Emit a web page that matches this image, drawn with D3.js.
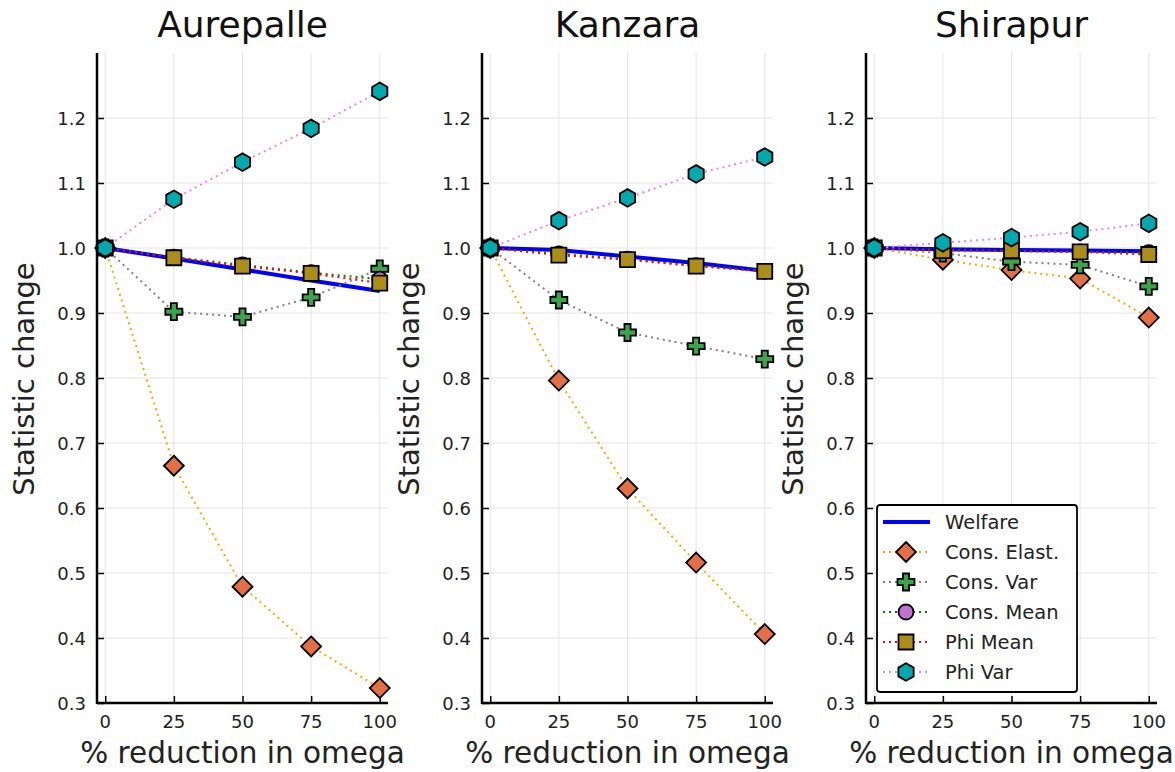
<!DOCTYPE html>
<html>
<head>
<meta charset="utf-8">
<script src="https://cdn.jsdelivr.net/npm/d3@7"></script>
<style>
  body { margin: 0; background: #fff; }
  svg { font-family: "DejaVu Sans", sans-serif; }
</style>
</head>
<body>
<svg id="chart"></svg>
<script>
// data
const omega = [0, 25, 50, 75, 100];
const villages = ["Aurepalle", "Kanzara", "Shirapur"];
const seriesNames = ["Welfare", "Cons. Elast.", "Cons. Var", "Cons. Mean", "Phi Mean", "Phi Var"];

const welfare = [
    [1.0, 0.984, 0.967, 0.950, 0.934],
    [1.0, 0.997, 0.987, 0.977, 0.965],
    [1.0, 0.998, 0.997, 0.996, 0.995]
];
const consElast = [
    [1.0, 0.665, 0.479, 0.387, 0.323],
    [1.0, 0.796, 0.630, 0.516, 0.406],
    [1.0, 0.982, 0.966, 0.953, 0.893]
];
const consVar = [
    [1.0, 0.902, 0.894, 0.924, 0.968],
    [1.0, 0.920, 0.870, 0.849, 0.829],
    [1.0, 0.992, 0.979, 0.974, 0.941]
];
const consMean = [
    [1.0, 0.986, 0.974, 0.962, 0.952],
    [1.0, 0.991, 0.983, 0.973, 0.964],
    [1.0, 0.997, 0.995, 0.994, 0.993]
];
const phiMean = [
    [1.0, 0.985, 0.972, 0.961, 0.946],
    [1.0, 0.989, 0.982, 0.972, 0.964],
    [1.0, 0.996, 0.996, 0.994, 0.990]
];
const phiVar = [
    [1.0, 1.075, 1.132, 1.184, 1.241],
    [1.0, 1.042, 1.077, 1.114, 1.140],
    [1.0, 1.008, 1.016, 1.025, 1.038]
];

const xTicks = [0, 25, 50, 75, 100];
const yTicks = [0.3, 0.4, 0.5, 0.6, 0.7, 0.8, 0.9, 1.0, 1.1, 1.2];

const W = 1175, H = 772;
const svg = d3.select("#chart").attr("width", W).attr("height", H);

// marker shapes (r = half size)
function diamond(r) { return `M0,${-r}L${r},0L0,${r}L${-r},0Z`; }
function square(r) { return `M${-r},${-r}H${r}V${r}H${-r}Z`; }
function circle(r) { return `M${r},0A${r},${r} 0 1,1 ${-r},0A${r},${r} 0 1,1 ${r},0Z`; }
function cross(r) {
    const a = r * 0.36;
    return `M${-a},${-r}H${a}V${-a}H${r}V${a}H${a}V${r}H${-a}V${a}H${-r}V${-a}H${-a}Z`;
}
function hexagon(r) {
    const pts = d3.range(6).map(i => {
        const ang = Math.PI / 3 * i - Math.PI / 2;
        return [r * Math.cos(ang), r * Math.sin(ang)];
    });
    return "M" + pts.map(p => p.join(",")).join("L") + "Z";
}

// style for each series (same order as seriesNames)
const styles = [
    { line: "#0000ff", width: 4, dash: null, marker: null },
    { line: "#ffa500", width: 2, dash: "2,4", marker: diamond(10), fill: "#e26f46" },
    { line: "#808080", width: 2, dash: "2,4", marker: cross(8.5), fill: "#3da44d" },
    { line: "#008000", width: 2, dash: "2,4", marker: circle(7.5), fill: "#c271d2" },
    { line: "#ff0000", width: 2, dash: "2,4", marker: square(7.5), fill: "#ac8d18" },
    { line: "#ee82ee", width: 2, dash: "2,4", marker: hexagon(8.8), fill: "#00a9ad" }
];

const allSeries = [welfare, consElast, consVar, consMean, phiMean, phiVar];

const panelLeft = [97, 482, 866];
const panelW = 291, plotTop = 53, plotBottom = 703;

villages.forEach((name, p) => {
    const x = d3.scaleLinear().domain([-3, 103]).range([panelLeft[p], panelLeft[p] + panelW]);
    const y = d3.scaleLinear().domain([0.3, 1.3]).range([plotBottom, plotTop]);
    const g = svg.append("g");

    // grid
    g.selectAll(".gx").data(xTicks).enter().append("line")
        .attr("x1", d => x(d)).attr("x2", d => x(d))
        .attr("y1", plotTop).attr("y2", plotBottom)
        .style("stroke", "#e4e4e4").style("stroke-width", 1);
    g.selectAll(".gy").data(yTicks).enter().append("line")
        .attr("x1", x.range()[0]).attr("x2", x.range()[1])
        .attr("y1", d => y(d)).attr("y2", d => y(d))
        .style("stroke", "#e4e4e4").style("stroke-width", 1);

    // axes, ticks pointing inward
    const xAxis = g.append("g").attr("transform", `translate(0,${plotBottom})`)
        .call(d3.axisTop(x).tickValues(xTicks).tickSize(7).tickFormat(""));
    xAxis.select(".domain").remove();
    g.selectAll(".xl").data(xTicks).enter().append("text")
        .attr("x", d => x(d)).attr("y", plotBottom + 25)
        .attr("text-anchor", "middle")
        .style("font-size", "18px").style("fill", "#222")
        .text(d => d);

    const yAxis = g.append("g").attr("transform", `translate(${x.range()[0]},0)`)
        .call(d3.axisRight(y).tickValues(yTicks).tickSize(7).tickFormat(""));
    yAxis.select(".domain").remove();
    g.selectAll(".yl").data(yTicks).enter().append("text")
        .attr("x", x.range()[0] - 11).attr("y", d => y(d) + 6.5)
        .attr("text-anchor", "end")
        .style("font-size", "18px").style("fill", "#222")
        .text(d => d.toFixed(1));
    g.selectAll(".tick line").style("stroke", "#000").style("stroke-width", 1.5);

    g.append("line")
        .attr("x1", x.range()[0]).attr("x2", x.range()[0])
        .attr("y1", plotTop).attr("y2", plotBottom + 1)
        .style("stroke", "#000").style("stroke-width", 2.5);
    g.append("line")
        .attr("x1", x.range()[0]).attr("x2", x.range()[1])
        .attr("y1", plotBottom).attr("y2", plotBottom)
        .style("stroke", "#000").style("stroke-width", 2.5);

    // titles and labels
    const cx = (x.range()[0] + x.range()[1]) / 2;
    g.append("text").attr("x", cx).attr("y", 37)
        .attr("text-anchor", "middle").style("font-size", "36px").style("fill", "#111")
        .text(name);
    g.append("text").attr("x", cx).attr("y", 763)
        .attr("text-anchor", "middle").style("font-size", "29.5px").style("fill", "#222")
        .text("% reduction in omega");
    g.append("text")
        .attr("transform", `translate(${x.range()[0] - 63},${(plotTop + plotBottom) / 2 + 1}) rotate(-90)`)
        .attr("text-anchor", "middle").style("font-size", "29px").style("fill", "#222")
        .text("Statistic change");

    // series
    const line = d3.line().x((d, i) => x(omega[i])).y(d => y(d));
    allSeries.forEach((s, k) => {
        const st = styles[k];
        const vals = s[p];
        g.append("path")
            .datum(vals)
            .attr("d", line)
            .style("fill", "none")
            .style("stroke", st.line)
            .style("stroke-width", st.width)
            .style("stroke-dasharray", st.dash);
        if (st.marker) {
            g.selectAll(".m" + k).data(vals).enter().append("path")
                .attr("d", st.marker)
                .attr("transform", (d, i) => `translate(${x(omega[i])},${y(d)})`)
                .style("fill", st.fill)
                .style("stroke", "#000")
                .style("stroke-width", 1.8);
        }
    });
});

// legend in the last panel
const leg = svg.append("g").attr("transform", "translate(877,505)");
leg.append("rect")
    .attr("width", 200).attr("height", 187).attr("rx", 3)
    .style("fill", "#fff").style("stroke", "#000").style("stroke-width", 1.8);

seriesNames.forEach((n, k) => {
    const st = styles[k];
    const yy = 17 + k * 30;
    leg.append("line")
        .attr("x1", 6).attr("x2", 53).attr("y1", yy).attr("y2", yy)
        .style("stroke", st.line).style("stroke-width", st.width)
        .style("stroke-dasharray", st.dash);
    if (st.marker) {
        leg.append("path").attr("d", st.marker)
            .attr("transform", `translate(29,${yy})`)
            .style("fill", st.fill).style("stroke", "#000").style("stroke-width", 1.8);
    }
    leg.append("text")
        .attr("x", 68).attr("y", yy + 7)
        .style("font-size", "19.5px").style("fill", "#222")
        .text(n);
});
</script>
</body>
</html>
